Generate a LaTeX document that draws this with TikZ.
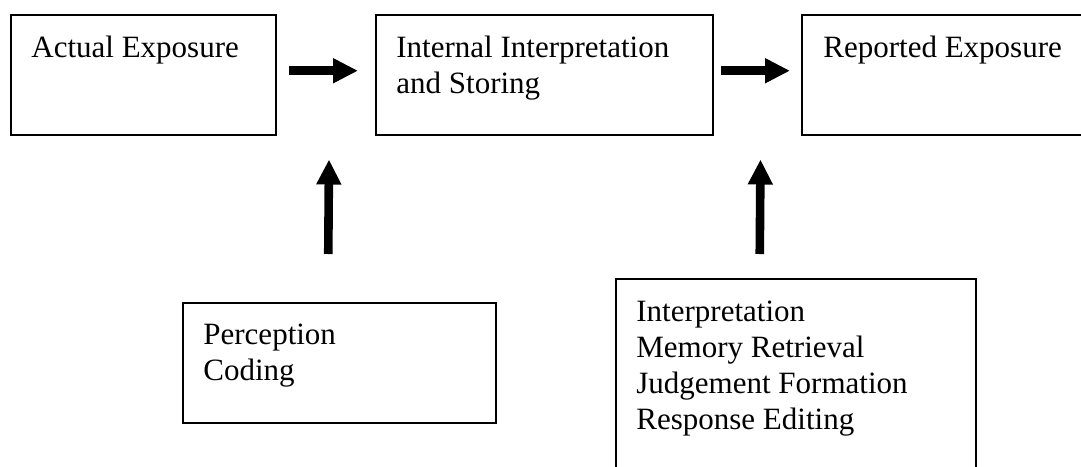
\documentclass[tikz,border=0pt]{standalone}
\usepackage{fontspec}
\setmainfont{Liberation Serif}
\usetikzlibrary{arrows.meta}

\begin{document}
\begin{tikzpicture}[x=1pt, y=-1pt,
  box/.style={draw=black, line width=0.75pt, rectangle, anchor=north west, inner sep=0pt},
  txt/.style={anchor=north west, inner sep=0pt, align=left, font=\fontsize{15.5}{18}\selectfont},
  fatarrow/.style={line width=4.3pt, -{Triangle[length=12.5pt,width=11.75pt]}}]
\clip (0,0) rectangle (540.5,233);
% boxes
\node[box, minimum width=132.5pt, minimum height=60pt] (actual) at (5,7) {};
\node[box, minimum width=168.5pt, minimum height=60pt] (internal) at (187.5,7) {};
\node[box, minimum width=150pt, minimum height=60pt] (reported) at (400.5,7) {};
\node[box, minimum width=156.5pt, minimum height=60pt] (perception) at (91,151) {};
\node[box, minimum width=180pt, minimum height=100pt] (retrieval) at (307.5,139) {};
% texts
\node[txt] (actualtxt) at ([shift={(10.5,11)}]actual.north west) {Actual Exposure};
\node[txt] (internaltxt) at ([shift={(10.5,11)}]internal.north west) {Internal Interpretation\\and Storing};
\node[txt] (reportedtxt) at ([shift={(11,11)}]reported.north west) {Reported Exposure};
\node[txt] (perceptiontxt) at ([shift={(10.5,11)}]perception.north west) {Perception\\Coding};
\node[txt] (retrievaltxt) at ([shift={(10.5,11.5)}]retrieval.north west) {Interpretation\\Memory Retrieval\\Judgement Formation\\Response Editing};
% arrows
\draw[fatarrow] ([shift={(6,-2)}]actual.east) -- ([shift={(-8.5,-2)}]internal.west);
\draw[fatarrow] ([shift={(3.5,-2)}]internal.east) -- ([shift={(-5.5,-2)}]reported.west);
\draw[fatarrow] ([shift={(-5.5,-24)}]perception.north) -- ([shift={(26.25,12)}]actual.south east);
\draw[fatarrow] ([shift={(-18,-12)}]retrieval.north) -- ([shift={(23.5,12)}]internal.south east);
\end{tikzpicture}
\end{document}
